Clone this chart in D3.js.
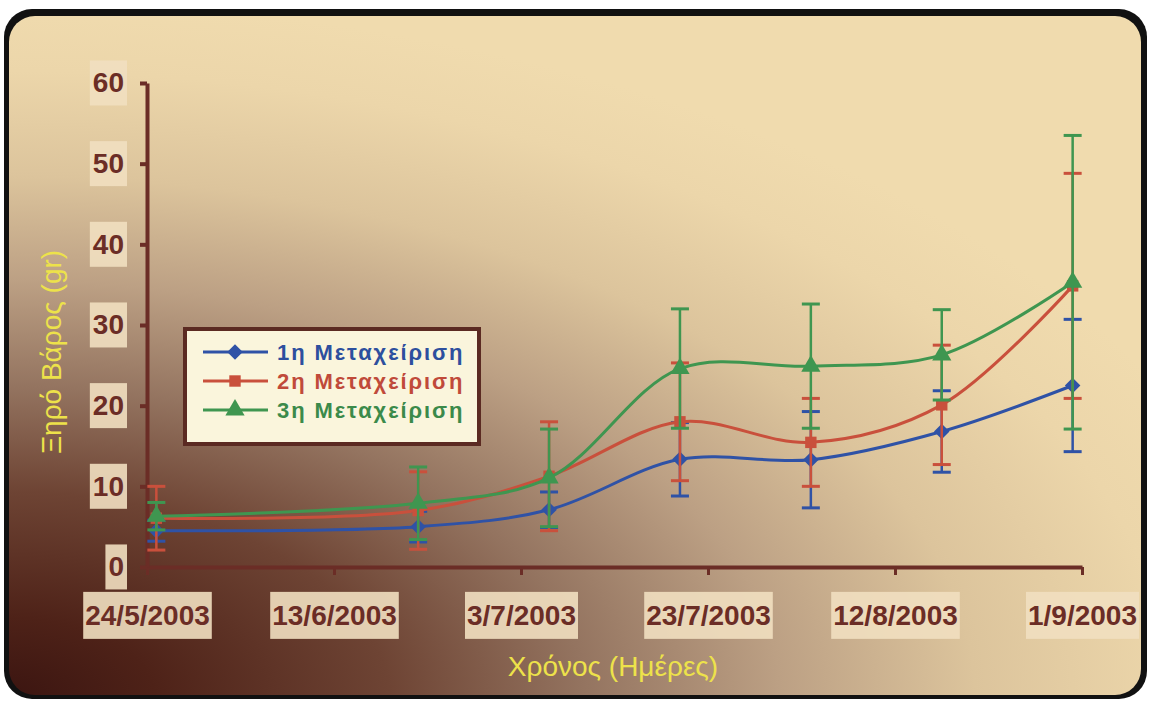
<!DOCTYPE html>
<html><head><meta charset="utf-8">
<script src="https://cdn.jsdelivr.net/npm/d3@7"></script>
<style>html,body{margin:0;padding:0;background:#fff;}svg{display:block;}</style>
</head><body>
<svg id="c" width="1149" height="701"></svg>
<script>
// ---- data ----
const dates = ["2003-05-25","2003-06-22","2003-07-06","2003-07-20","2003-08-03","2003-08-17","2003-08-31"];
const seriesNames = ["1η Μεταχείριση","2η Μεταχείριση","3η Μεταχείριση"];
const t1 = [4.5, 5.0, 7.1, 13.35, 13.3, 16.8, 22.5];
const sd1 = [1.3, 1.9, 2.2, 4.55, 5.97, 5.05, 8.2];
const t2 = [6.05, 7.0, 11.25, 18.0, 15.45, 20.1, 34.85];
const sd2 = [3.95, 4.8, 6.75, 7.3, 5.45, 7.4, 13.95];
const t3 = [6.3, 7.9, 11.05, 24.6, 24.9, 26.3, 35.3];
const sd3 = [1.7, 4.5, 6.05, 7.4, 7.7, 5.6, 18.2];
const xTickLabels = ["24/5/2003","13/6/2003","3/7/2003","23/7/2003","12/8/2003","1/9/2003"];
const xTickDates = ["2003-05-24","2003-06-13","2003-07-03","2003-07-23","2003-08-12","2003-09-01"];
const yTicks = [0,10,20,30,40,50,60];
const xTitle = "Χρόνος (Ημέρες)";
const yTitle = "Ξηρό Βάρος (gr)";

const parse = d3.utcParse("%Y-%m-%d");
const svg = d3.select("#c");
const axisCol = "#6b2d26";
const colors = ["#2f52a6","#c9503c","#3f9650"];
const textColors = ["#2d4f9e","#c04a3a","#3b8a4a"];
const FONT = "'Liberation Sans', Arial, sans-serif";

// ---- background ----
const defs = svg.append("defs");
const g = defs.append("radialGradient").attr("id","bg").attr("gradientUnits","userSpaceOnUse")
  .attr("cx",0).attr("cy",0).attr("r",1000)
  .attr("gradientTransform","translate(0,701) scale(1.3,0.7)");
[[0,"#3a1410"],[0.12,"#4e2218"],[0.3,"#6e4434"],[0.45,"#947460"],[0.6,"#bca084"],[0.75,"#dcc49c"],[0.9,"#ecd6aa"],[1,"#f0dbae"]]
  .forEach(([o,c])=>g.append("stop").attr("offset",o).attr("stop-color",c));
svg.append("rect").attr("x",4).attr("y",9).attr("width",1143).attr("height",690).attr("rx",28).attr("fill","#111");
svg.append("rect").attr("x",9).attr("y",16).attr("width",1132).attr("height",679).attr("rx",26).attr("fill","url(#bg)");

// ---- scales ----
const x = d3.scaleUtc().domain([parse("2003-05-24"), parse("2003-09-01")]).range([147,1082]);
const y = d3.scaleLinear().domain([0,60]).range([567,83]);

// ---- axes ----
function labelBoxes(sel, padX, padY){
  sel.selectAll(".tick").each(function(){
    const t = d3.select(this).select("text");
    const b = t.node().getBBox();
    d3.select(this).insert("rect","text").attr("x",b.x-padX).attr("y",b.y-padY)
      .attr("width",b.width+2*padX).attr("height",b.height+2*padY).attr("fill","#f1dfc0").attr("opacity",0.9);
  });
}
const xAx = svg.append("g").attr("transform","translate(0,567)")
  .call(d3.axisBottom(x).tickValues(xTickDates.map(parse)).tickFormat((d,i)=>xTickLabels[i]).tickSize(8).tickSizeOuter(0).tickPadding(30));
xAx.select(".domain").attr("stroke",axisCol).attr("stroke-width",4);
xAx.selectAll(".tick line").attr("stroke",axisCol).attr("stroke-width",3);
xAx.selectAll("text").attr("fill",axisCol).attr("font-family",FONT).attr("font-weight","bold").attr("font-size",28);
labelBoxes(xAx,2,8);

const yAx = svg.append("g").attr("transform","translate(147,0)")
  .call(d3.axisLeft(y).tickValues(yTicks).tickSize(7).tickSizeOuter(0).tickPadding(16));
yAx.select(".domain").attr("stroke",axisCol).attr("stroke-width",4);
yAx.selectAll(".tick line").attr("stroke",axisCol).attr("stroke-width",4);
yAx.selectAll("text").attr("fill",axisCol).attr("font-family",FONT).attr("font-weight","bold").attr("font-size",28);
labelBoxes(yAx,3,7);

// ---- titles ----
svg.append("text").attr("x",613).attr("y",676).attr("text-anchor","middle")
  .attr("font-family",FONT).attr("font-size",28).attr("fill","#ede24a").text(xTitle);
svg.append("text").attr("transform","translate(61,352) rotate(-90)").attr("text-anchor","middle")
  .attr("font-family",FONT).attr("font-size",28).attr("fill","#ede24a").text(yTitle);

// ---- series ----
const series = [[t1,sd1],[t2,sd2],[t3,sd3]];
const symbols = [d3.symbolSquare, d3.symbolSquare, d3.symbolTriangle];
const symRot = [45, 0, 0];
const symSizes = [120, 130, 160];
const line = d3.line().x(d=>x(d.date)).y(d=>y(d.v)).curve(d3.curveCatmullRom.alpha(0.5));
series.forEach(([vals,sds],si)=>{
  const data = vals.map((v,i)=>({date:parse(dates[i]), v, sd:sds[i]}));
  const gs = svg.append("g");
  const eb = gs.append("g");
  data.forEach(d=>{
    const cx = x(d.date), top = y(d.v+d.sd), bot = y(d.v-d.sd);
    eb.append("line").attr("x1",cx).attr("x2",cx).attr("y1",top).attr("y2",bot).attr("stroke",colors[si]).attr("stroke-width",2.5);
    [top,bot].forEach(yy=>eb.append("line").attr("x1",cx-9).attr("x2",cx+9).attr("y1",yy).attr("y2",yy).attr("stroke",colors[si]).attr("stroke-width",3));
  });
  gs.append("path").datum(data).attr("d",line).attr("fill","none").attr("stroke",colors[si]).attr("stroke-width",3);
  gs.selectAll(".m").data(data).join("path").attr("class","m")
    .attr("transform",d=>`translate(${x(d.date)},${y(d.v)}) rotate(${symRot[si]})`)
    .attr("d",d3.symbol().type(symbols[si]).size(symSizes[si])).attr("fill",colors[si]);
});

// ---- legend ----
const lg = svg.append("g");
lg.append("rect").attr("x",185).attr("y",329).attr("width",294).attr("height",115)
  .attr("fill","#faf5dc").attr("stroke","#5b2a22").attr("stroke-width",4);
seriesNames.forEach((n,i)=>{
  const yy = 352 + i*29;
  lg.append("line").attr("x1",203).attr("x2",268).attr("y1",yy).attr("y2",yy).attr("stroke",colors[i]).attr("stroke-width",3);
  lg.append("path").attr("transform",`translate(235,${yy}) rotate(${symRot[i]})`).attr("d",d3.symbol().type(symbols[i]).size(symSizes[i])).attr("fill",colors[i]);
  lg.append("text").attr("x",277).attr("y",yy+8).attr("font-family",FONT).attr("font-weight","bold")
    .attr("font-size",22).attr("letter-spacing",1.9).attr("fill",textColors[i]).text(n);
});
</script>
</body></html>
